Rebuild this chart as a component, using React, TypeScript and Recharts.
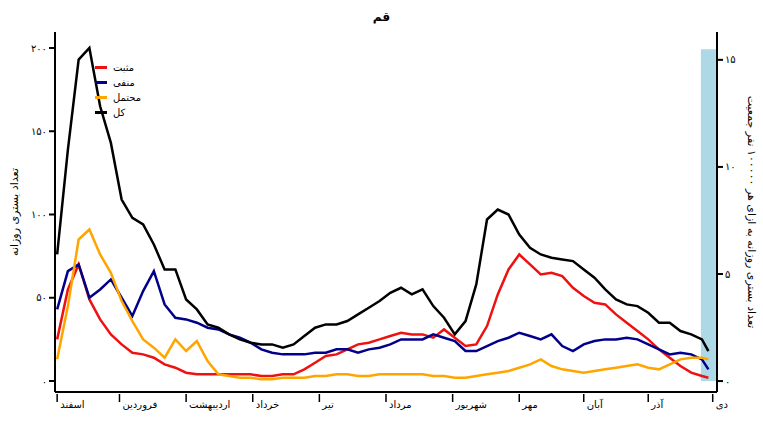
import React from 'react';
import { LineChart, Line, XAxis, YAxis, ReferenceArea } from 'recharts';

// day index from the start of Esfand, sampled every 5 days
const days = Array.from({ length: 62 }, (_, i) => (i === 61 ? 303 : i * 5));

const total = [76, 139, 193, 200, 165, 143, 109, 98, 94, 82, 67, 67, 49, 43, 34, 32, 28, 25, 23, 22, 22, 20, 22, 27, 32, 34, 34, 36, 40, 44, 48, 53, 56, 52, 55, 45, 38, 28, 36, 58, 97, 103, 100, 88, 80, 76, 74, 73, 72, 67, 62, 55, 49, 46, 45, 41, 35, 35, 30, 28, 25, 18];
const positive = [25, 55, 70, 49, 37, 28, 22, 17, 16, 14, 10, 8, 5, 4, 4, 4, 4, 4, 4, 3, 3, 4, 4, 7, 11, 15, 16, 19, 22, 23, 25, 27, 29, 28, 28, 26, 31, 26, 21, 22, 33, 52, 67, 76, 70, 64, 65, 63, 56, 51, 47, 46, 40, 35, 30, 25, 19, 14, 9, 5, 3, 2];
const negative = [43, 66, 70, 50, 55, 61, 50, 39, 54, 66, 46, 38, 37, 35, 32, 31, 28, 26, 23, 19, 17, 16, 16, 16, 17, 17, 19, 19, 17, 19, 20, 22, 25, 25, 25, 28, 26, 24, 18, 18, 21, 24, 26, 29, 27, 25, 28, 21, 18, 22, 24, 25, 25, 26, 25, 22, 19, 16, 17, 16, 13, 7];
const probable = [13, 45, 85, 91, 76, 65, 48, 36, 25, 20, 14, 25, 18, 24, 12, 4, 3, 2, 2, 1, 1, 2, 2, 2, 3, 3, 4, 4, 3, 3, 4, 4, 4, 4, 4, 3, 3, 2, 2, 3, 4, 5, 6, 8, 10, 13, 9, 7, 6, 5, 6, 7, 8, 9, 10, 8, 7, 10, 13, 14, 14, 13];

const monthStarts = [0, 29, 60, 91, 122, 153, 184, 215, 245, 275, 305];
const monthNames = ['اسفند', 'فروردین', 'اردیبهشت', 'خرداد', 'تیر', 'مرداد', 'شهریور', 'مهر', 'آبان', 'آذر', 'دی'];

const leftTicks = [0, 50, 100, 150, 200];
const rightTicks = [0, 5, 10, 15];

const series = [
  { key: 'positive', name: 'مثبت', color: '#ee1111' },
  { key: 'negative', name: 'منفی', color: '#00008b' },
  { key: 'probable', name: 'محتمل', color: '#ffa500' },
  { key: 'total', name: 'کل', color: '#000000' },
];

const data = days.map((d, i) => ({
  day: d,
  total: total[i],
  positive: positive[i],
  negative: negative[i],
  probable: probable[i],
}));

const font = '"DejaVu Sans", sans-serif';

function toPersian(n: number): string {
  return String(n).replace(/\d/g, (c) => '۰۱۲۳۴۵۶۷۸۹'[Number(c)]);
}

function MonthTick(props: any) {
  const { x, y, payload } = props;
  const idx = monthStarts.indexOf(payload.value);
  return (
    <g>
      <line x1={x} x2={x} y1={y - 8} y2={y} stroke="#000" strokeWidth={1.5} />
      <text x={x + 3} y={y + 6} fontSize={10} fontFamily={font} textAnchor="start" fill="#000">
        {monthNames[idx]}
      </text>
    </g>
  );
}

export default function App() {
  return (
    <div style={{ position: 'absolute', left: 0, top: 0, width: 763, height: 430, background: '#fff', fontFamily: font }}>
      <div style={{ position: 'absolute', left: 0, top: 10, width: 763, textAlign: 'center', fontSize: 12, fontWeight: 'bold' }}>قم</div>
      <LineChart width={763} height={430} data={data} margin={{ top: 32, right: 16, bottom: 8, left: 15 }}>
        <XAxis
          xAxisId="top"
          orientation="top"
          dataKey="day"
          type="number"
          domain={[-1, 307]}
          tick={false}
          tickLine={false}
          height={0}
          stroke="#000"
          strokeWidth={2}
        />
        <XAxis
          dataKey="day"
          type="number"
          domain={[-1, 307]}
          ticks={monthStarts}
          tick={<MonthTick />}
          tickSize={8}
          tickLine={false}
          height={30}
          stroke="#000"
          strokeWidth={2}
          interval={0}
        />
        <YAxis
          yAxisId="left"
          type="number"
          domain={[-6.6, 209.6]}
          allowDataOverflow
          ticks={leftTicks}
          tickFormatter={toPersian}
          tick={{ fontSize: 10, fill: '#000', fontFamily: font }}
          width={40}
          stroke="#000"
          strokeWidth={2}
          label={{ value: 'تعداد بستری روزانه', angle: -90, position: 'insideLeft', offset: -1, style: { fontSize: 11, fill: '#000', textAnchor: 'middle', fontFamily: font } }}
        />
        <YAxis
          yAxisId="right"
          orientation="right"
          type="number"
          domain={[-0.51, 16.3]}
          allowDataOverflow
          ticks={rightTicks}
          interval={0}
          tickFormatter={toPersian}
          tick={{ fontSize: 10, fill: '#000', fontFamily: font }}
          width={30}
          stroke="#000"
          strokeWidth={2}
          label={{ value: 'تعداد بستری روزانه به ازای هر ۱۰۰۰۰۰ نفر جمعیت', angle: 90, position: 'insideRight', offset: -5, style: { fontSize: 11, fill: '#000', textAnchor: 'middle', fontFamily: font } }}
        />
        <ReferenceArea xAxisId={0} yAxisId="right" x1={299.5} x2={306.5} y1={0} y2={15.5} fill="#add8e6" fillOpacity={1} stroke="none" ifOverflow="visible" />
        {series.map((s) => (
          <Line
            key={s.key}
            yAxisId="left"
            dataKey={s.key}
            stroke={s.color}
            strokeWidth={2.5}
            dot={false}
            type="linear"
            isAnimationActive={false}
          />
        ))}
      </LineChart>
      <div style={{ position: 'absolute', left: 95, top: 60, fontSize: 10 }}>
        {series.map((s) => (
          <div key={s.key} style={{ display: 'flex', alignItems: 'center', height: 15 }}>
            <div style={{ width: 12, height: 3, background: s.color, marginRight: 6 }} />
            <span>{s.name}</span>
          </div>
        ))}
      </div>
    </div>
  );
}
